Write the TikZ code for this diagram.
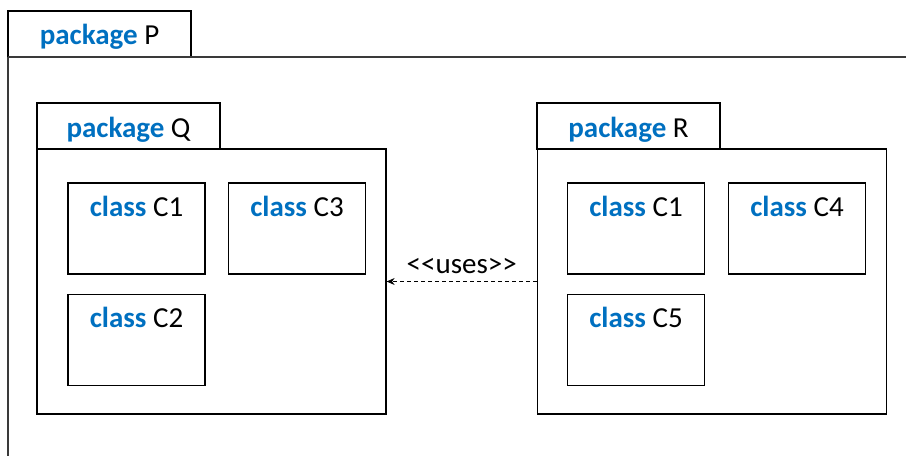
\documentclass[tikz,border=0pt]{standalone}
\usepackage{fontspec}
\setmainfont{Carlito}
\usetikzlibrary{arrows.meta,positioning}
\definecolor{kwblue}{HTML}{0070C0}
\definecolor{frame}{HTML}{3A3A3A}
\newcommand{\kw}[1]{\textcolor{kwblue}{\textbf{#1}}}
\tikzset{
  box/.style={draw, line width=1.3pt, inner sep=0pt},
  pkgtab/.style={box, minimum width=183pt, minimum height=46pt},
  pkgbody/.style={box, minimum width=349pt, minimum height=265pt},
  clsbox/.style={box, minimum width=137pt, minimum height=91pt},
  txt/.style={font=\fontsize{29}{33}\selectfont, inner sep=0pt, anchor=base},
  uses/.style={dash pattern=on 4pt off 3pt, line width=0.8pt, -{Stealth[length=8pt,width=7pt]}}
}
\begin{document}
\begin{tikzpicture}[x=1pt,y=-1pt]
    \useasboundingbox (0,0) rectangle (906,456);
    % package P
    \node[pkgtab] (ptab) at (99.5,34) {};
    \draw[frame, line width=2pt] (8,57) -- (906,57);
    \draw[frame, line width=2pt] (8,57) -- (8,456);
    \node[txt] (plabel) at ([yshift=-34pt]ptab.north) {\kw{package} P};
    % package Q and R
    \node[pkgtab] (qtab) at (128.5,126) {};
    \node[pkgbody] (qbody) at (211.5,281.5) {};
    \node[pkgtab] (rtab) at (628.5,126) {};
    \node[pkgbody] (rbody) at (712,281.5) {};
    \node[txt] (qlabel) at ([yshift=-35pt]qtab.north) {\kw{package} Q};
    \node[txt] (rlabel) at ([yshift=-35pt]rtab.north) {\kw{package} R};
    % classes
    \foreach \n/\x/\y/\c in {q1/136.5/228.5/C1, q3/297/228.5/C3, q2/136.5/340/C2,
                             r1/636/228.5/C1, r4/797/228.5/C4, r5/636/340/C5}{
        \node[clsbox] (\n) at (\x,\y) {};
        \node[txt] at ([yshift=-34pt]\n.north) {\kw{class} \c};
    }
    % dependency
    \draw[uses] (rbody.west) -- (qbody.east)
        node[midway, txt, yshift=8pt] (useslabel) {{<}{<}uses{>}{>}};
\end{tikzpicture}
\end{document}
